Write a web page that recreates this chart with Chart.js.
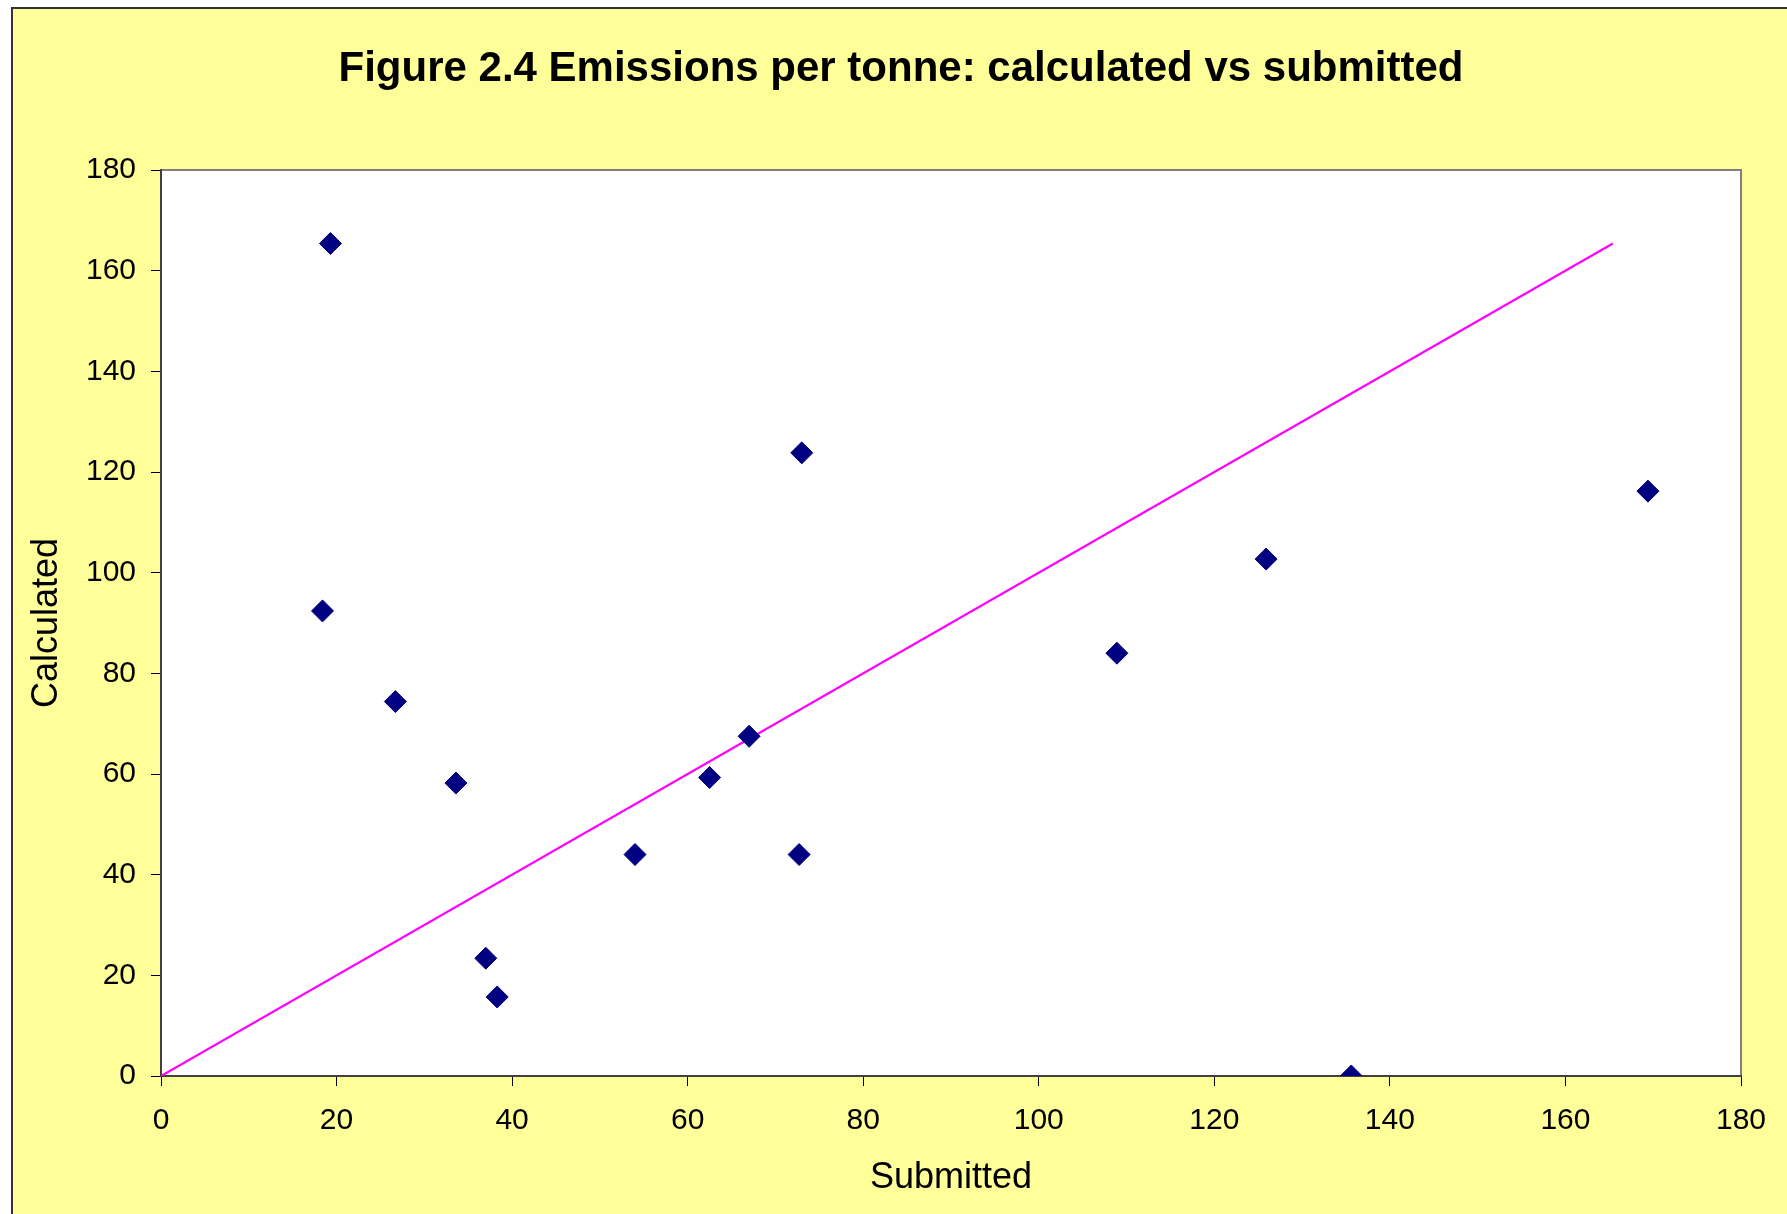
<!DOCTYPE html>
<html lang="en">
<head>
    <meta charset="UTF-8">
    <title>Figure 2.4 Emissions per tonne</title>
    <script src="https://cdn.jsdelivr.net/npm/chart.js"></script>
    <style>
        html, body {
            margin: 0;
            padding: 0;
            background: #ffffff;
        }
        .chart-container {
            width: 1787px;
            height: 1214px;
        }
    </style>
</head>
<body>
    <div class="chart-container">
        <canvas id="emissions" width="1787" height="1214"></canvas>
    </div>

    <script>
        // Datos
        const submitted  = [19.3, 18.4, 26.7, 33.6, 37.0, 38.3, 54.0, 62.5, 67.0, 73.0, 72.7, 108.9, 125.9, 135.6, 169.4];
        const calculated = [165.4, 92.4, 74.4, 58.2, 23.4, 15.7, 44.0, 59.3, 67.5, 123.8, 44.0, 84.0, 102.7, 0, 116.2];

        // Linea de referencia y = x
        const lineX = [0, 165.4];
        const lineY = [0, 165.4];

        const axisMin = 0, axisMax = 180, axisStep = 20;
        const titleText = 'Figure 2.4 Emissions per tonne: calculated vs submitted';
        const xTitle = 'Submitted';
        const yTitle = 'Calculated';

        const FONT = 'Arial, "Liberation Sans", sans-serif';

        // Fondo amarillo, area blanca y borde del grafico
        const backgroundPlugin = {
            id: 'background',
            beforeDraw(chart) {
                const ctx = chart.ctx;
                const a = chart.chartArea;
                ctx.save();
                ctx.fillStyle = '#ffffff';
                ctx.fillRect(0, 0, chart.width, chart.height);
                ctx.fillStyle = '#FFFF99';
                ctx.fillRect(11, 7, chart.width, chart.height);
                ctx.strokeStyle = '#333333';
                ctx.lineWidth = 2;
                ctx.beginPath();
                ctx.moveTo(12, chart.height + 5);
                ctx.lineTo(12, 8);
                ctx.lineTo(chart.width + 5, 8);
                ctx.stroke();

                ctx.fillStyle = '#ffffff';
                ctx.fillRect(a.left, a.top, a.right - a.left, a.bottom - a.top);
                ctx.strokeStyle = '#808080';
                ctx.lineWidth = 2;
                ctx.beginPath();
                ctx.moveTo(a.left, a.top);
                ctx.lineTo(a.right, a.top);
                ctx.lineTo(a.right, a.bottom);
                ctx.stroke();
                ctx.restore();
            }
        };

        const ctx = document.getElementById('emissions').getContext('2d');
        const chart = new Chart(ctx, {
            type: 'scatter',
            data: {
                datasets: [
                    {
                        label: 'Emissions',
                        data: submitted.map((x, i) => ({ x: x, y: calculated[i] })),
                        pointStyle: 'rectRot',
                        pointRadius: 11,
                        pointBackgroundColor: '#000080',
                        pointBorderColor: '#000080',
                        pointBorderWidth: 1,
                        showLine: false,
                        order: 0
                    },
                    {
                        label: 'y = x',
                        type: 'line',
                        data: lineX.map((x, i) => ({ x: x, y: lineY[i] })),
                        borderColor: '#FF00FF',
                        borderWidth: 2.2,
                        pointRadius: 0,
                        fill: false,
                        tension: 0,
                        order: 1
                    }
                ]
            },
            options: {
                responsive: false,
                animation: { duration: 0 },
                layout: {
                    padding: { left: 15, right: 0, top: 0, bottom: 0 }
                },
                plugins: {
                    legend: { display: false },
                    tooltip: { enabled: false },
                    title: {
                        display: true,
                        text: titleText,
                        color: '#000000',
                        font: { family: FONT, size: 42, weight: 'bold', lineHeight: 1.2 },
                        padding: { top: 44.2, bottom: 75.4 }
                    }
                },
                scales: {
                    x: {
                        type: 'linear',
                        min: axisMin,
                        max: axisMax,
                        ticks: {
                            stepSize: axisStep,
                            color: '#000000',
                            padding: 17,
                            maxRotation: 0,
                            font: { family: FONT, size: 30, lineHeight: 1.2 }
                        },
                        grid: {
                            display: true,
                            drawOnChartArea: false,
                            drawTicks: true,
                            tickLength: 10,
                            color: '#000000',
                            lineWidth: 1
                        },
                        border: { display: true, color: '#404040', width: 2 },
                        title: {
                            display: true,
                            text: xTitle,
                            color: '#000000',
                            font: { family: FONT, size: 36, lineHeight: 1.2 },
                            padding: { top: 0, bottom: 14.4 }
                        },
                        afterFit(scale) {
                            scale.height = 138;
                        }
                    },
                    y: {
                        type: 'linear',
                        min: axisMin,
                        max: axisMax,
                        ticks: {
                            stepSize: axisStep,
                            color: '#000000',
                            padding: 15,
                            font: { family: FONT, size: 30, lineHeight: 1.2 }
                        },
                        grid: {
                            display: true,
                            drawOnChartArea: false,
                            drawTicks: true,
                            tickLength: 10,
                            color: '#000000',
                            lineWidth: 1
                        },
                        border: { display: true, color: '#404040', width: 2 },
                        title: {
                            display: true,
                            text: yTitle,
                            color: '#000000',
                            font: { family: FONT, size: 36, lineHeight: 1.2 },
                            padding: { top: 10.9, bottom: 0 }
                        },
                        afterFit(scale) {
                            scale.width = 146;
                        }
                    },
                    // eje vacio a la derecha para dejar el margen
                    yRight: {
                        type: 'linear',
                        position: 'right',
                        min: axisMin,
                        max: axisMax,
                        ticks: { display: false },
                        grid: { display: false },
                        border: { display: false },
                        afterFit(scale) {
                            scale.width = 46;
                        }
                    }
                }
            },
            plugins: [backgroundPlugin]
        });
    </script>
</body>
</html>
